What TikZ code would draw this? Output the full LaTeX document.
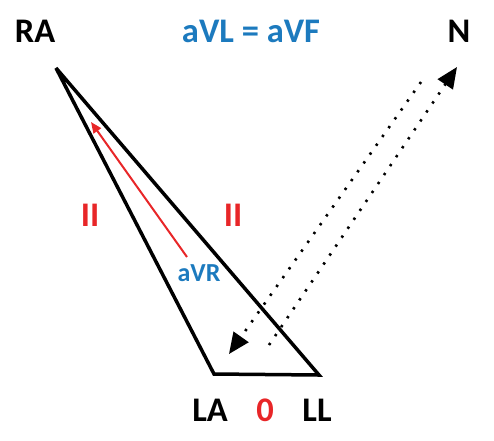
\documentclass[tikz,border=0pt]{standalone}
\usepackage{fontspec}
\setmainfont{Carlito}
\usetikzlibrary{arrows.meta}
\definecolor{myred}{RGB}{232,38,40}
\definecolor{myblue}{RGB}{28,122,190}
\begin{document}
\begin{tikzpicture}[x=1pt,y=-1pt,
  lbl/.style={font=\fontsize{34.5}{38}\selectfont\bfseries, inner sep=0pt},
  tri/.style={line width=3.5pt, line join=miter, miter limit=3},
  dotline/.style={line width=2.6pt, dash pattern=on 2.4pt off 8.4pt, -{Triangle[length=21pt,width=18pt]}},
  redarrow/.style={myred, line width=2pt, -{Triangle[length=11pt,width=9pt]}}]
\useasboundingbox (0,0) rectangle (494,440);
\coordinate (RA) at (56,68);
\coordinate (LA) at (214,374);
\coordinate (LL) at (319,375);
\draw[tri] (RA) -- (LL) -- (LA) -- cycle;
\coordinate (r1) at (187,257);
\coordinate (r2) at (91,122);
\draw[redarrow] (r1) -- (r2);
\coordinate (d1s) at (421,82);
\coordinate (d1e) at (229,354);
\coordinate (d2s) at (269,345);
\coordinate (d2e) at (457,67);
\draw[dotline] (d1s) -- (d1e);
\draw[dotline] (d2s) -- (d2e);
\node[lbl] (tRA) at (35,31) {RA};
\node[lbl, myblue] (tAVL) at (251,31) {aVL = aVF};
\node[lbl] (tN) at (459,31) {N};
\node[lbl, myred] (tII1) at (90,215) {II};
\node[lbl, myred] (tII2) at (233,215) {II};
\node[lbl, myblue, font=\fontsize{26}{28}\selectfont\bfseries] (tAVR) at (199,273) {aVR};
\node[lbl] (tLA) at (210,410) {LA};
\node[lbl, myred] (t0) at (265,410) {0};
\node[lbl] (tLL) at (317,410) {LL};
\end{tikzpicture}
\end{document}
